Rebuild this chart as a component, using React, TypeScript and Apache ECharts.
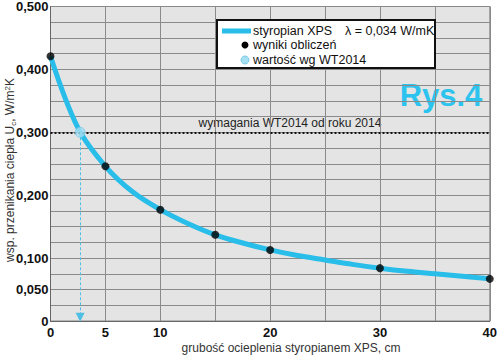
import React, { useEffect, useRef } from "react";
import * as echarts from "echarts";

// grubość ocieplenia [cm] and U [W/m2K]
const curveX = [0, 2.5, 5, 7.5, 10, 12.5, 15, 17.5, 20, 22.5, 25, 27.5, 30, 32.5, 35, 37.5, 40];
const curveU = [0.421, 0.307, 0.246, 0.205, 0.177, 0.155, 0.137, 0.124, 0.113, 0.104, 0.097, 0.09, 0.084, 0.079, 0.075, 0.071, 0.067];
const calcX = [0, 5, 10, 15, 20, 30, 40];
const calcU = [0.421, 0.246, 0.177, 0.137, 0.113, 0.084, 0.067];
const wtX = [2.7];
const wtU = [0.3];
const requirement = 0.3;
const xLabelValues = [0, 5, 10, 20, 30, 40];
const yLabelValues = [0, 0.05, 0.1, 0.2, 0.3, 0.4, 0.5];

const CYAN = "#29bde9";
const FONT = "Liberation Sans, Arial, sans-serif";

export default function App() {
  const ref = useRef<HTMLDivElement>(null);
  useEffect(() => {
    if (!ref.current) return;
    const chart = echarts.init(ref.current, null, { renderer: "svg" });
    const fmtY = (v: number) => {
      const r = Math.round(v * 1000);
      if (!yLabelValues.some((t) => Math.round(t * 1000) === r)) return "";
      if (r === 0) return "0";
      return (r / 1000).toFixed(3).replace(".", ",");
    };
    const fmtX = (v: number) => (xLabelValues.includes(Math.round(v)) ? String(Math.round(v)) : "");
    chart.setOption({
      animation: false,
      backgroundColor: "#ffffff",
      grid: {
        left: 50.5,
        right: 8,
        top: 4.5,
        bottom: 35,
        show: true,
        backgroundColor: "#e4e4e4",
        borderColor: "#888888",
        borderWidth: 1,
      },
      xAxis: {
        type: "value",
        min: 0,
        max: 40,
        interval: 5,
        axisLine: { show: true, lineStyle: { color: "#666", width: 1 } },
        axisTick: { show: false },
        axisLabel: {
          color: "#111",
          fontFamily: FONT,
          fontWeight: "bold",
          fontSize: 13,
          margin: 5,
          formatter: fmtX,
        },
        splitLine: { show: true, lineStyle: { color: "#8a8a8a", width: 1 } },
      },
      yAxis: {
        type: "value",
        min: 0,
        max: 0.5,
        interval: 0.025,
        axisLine: { show: true, lineStyle: { color: "#666", width: 1 } },
        axisTick: { show: false },
        axisLabel: {
          color: "#111",
          fontFamily: FONT,
          fontWeight: "bold",
          fontSize: 13,
          margin: 2,
          formatter: fmtY,
          showMaxLabel: true,
          showMinLabel: true,
        },
        splitLine: { show: true, lineStyle: { color: "#8a8a8a", width: 1 } },
      },
      series: [
        {
          name: "styropian XPS",
          type: "line",
          data: curveX.map((x, i) => [x, curveU[i]]),
          smooth: 0.35,
          showSymbol: false,
          symbol: "none",
          lineStyle: { color: CYAN, width: 5 },
          z: 3,
          markLine: {
            silent: true,
            symbol: ["none", "none"],
            label: { show: false },
            lineStyle: { color: "#111", type: [2, 2], width: 2.2 },
            data: [{ yAxis: requirement }],
          },
        },
        {
          name: "strzałka",
          type: "line",
          data: [],
          markLine: {
            silent: true,
            symbol: ["none", "triangle"],
            symbolSize: [9, 9],
            label: { show: false },
            lineStyle: { color: "#4fbfe3", type: [3, 2], width: 1 },
            itemStyle: { color: "#3fb8e3" },
            data: [[{ coord: [wtX[0], wtU[0]] }, { coord: [wtX[0], 0.006] }]],
          },
          z: 2,
        },
        {
          name: "wyniki obliczeń",
          type: "scatter",
          data: calcX.map((x, i) => [x, calcU[i]]),
          symbol: "circle",
          symbolSize: 8,
          itemStyle: { color: "#000" },
          z: 5,
        },
        {
          name: "wartość wg WT2014",
          type: "scatter",
          data: wtX.map((x, i) => [x, wtU[i]]),
          symbol: "circle",
          symbolSize: 10,
          itemStyle: { color: "#a6e0f2", borderColor: "#7ccbe6", borderWidth: 1 },
          z: 6,
        },
      ],
      graphic: [
        {
          type: "text",
          x: 291,
          y: 348,
          style: {
            text: "grubość ocieplenia styropianem XPS, cm",
            fontFamily: FONT,
            fontSize: 12,
            fill: "#333",
            align: "center",
            verticalAlign: "middle",
          },
        },
        {
          type: "text",
          x: 10,
          y: 170,
          rotation: Math.PI / 2,
          style: {
            text: "wsp. przenikania ciepła U{sub|c}, W/m{sup|2}K",
            fontFamily: FONT,
            fontSize: 12,
            fill: "#333",
            align: "center",
            verticalAlign: "middle",
            rich: {
              sub: { fontFamily: FONT, fontSize: 8, verticalAlign: "bottom", padding: [6, 0, 0, 0], fill: "#333" },
              sup: { fontFamily: FONT, fontSize: 8, verticalAlign: "top", padding: [0, 0, 5, 0], fill: "#333" },
            },
          },
        },
        {
          type: "text",
          x: 290,
          y: 129,
          style: {
            text: "wymagania WT2014 od roku 2014",
            fontFamily: FONT,
            fontSize: 12,
            fill: "#222",
            align: "center",
            verticalAlign: "bottom",
          },
        },
        {
          type: "text",
          x: 441,
          y: 95,
          style: {
            text: "Rys.4",
            fontFamily: FONT,
            fontSize: 31,
            fontWeight: "bold",
            fill: "#2cc3ef",
            align: "center",
            verticalAlign: "middle",
          },
        },
        {
          type: "group",
          children: [
            {
              type: "rect",
              shape: { x: 217, y: 20, width: 218, height: 48 },
              style: { fill: "#fff", stroke: "#111", lineWidth: 2 },
              z: 10,
            },
            {
              type: "line",
              shape: { x1: 222, y1: 31, x2: 251, y2: 31 },
              style: { stroke: CYAN, lineWidth: 5 },
              z: 11,
            },
            {
              type: "circle",
              shape: { cx: 245, cy: 45, r: 3.5 },
              style: { fill: "#000" },
              z: 11,
            },
            {
              type: "circle",
              shape: { cx: 245, cy: 60, r: 4 },
              style: { fill: "#a6e0f2", stroke: "#7ccbe6", lineWidth: 1 },
              z: 11,
            },
            ...[
              { t: "styropian XPS", x: 253, y: 31, s: 12.5 },
              { t: "λ = 0,034 W/mK", x: 345, y: 31, s: 12.5 },
              { t: "wyniki obliczeń", x: 253, y: 45, s: 12.5 },
              { t: "wartość wg WT2014", x: 253, y: 60, s: 12.5 },
            ].map((o) => ({
              type: "text",
              x: o.x,
              y: o.y,
              z: 12,
              style: {
                text: o.t,
                fontFamily: FONT,
                fontSize: o.s,
                fill: "#111",
                align: "left",
                verticalAlign: "middle",
              },
            })),
          ],
        },
      ],
    });
    return () => chart.dispose();
  }, []);
  return <div ref={ref} style={{ width: 500, height: 356, position: "absolute", left: 0, top: 0 }} />;
}
